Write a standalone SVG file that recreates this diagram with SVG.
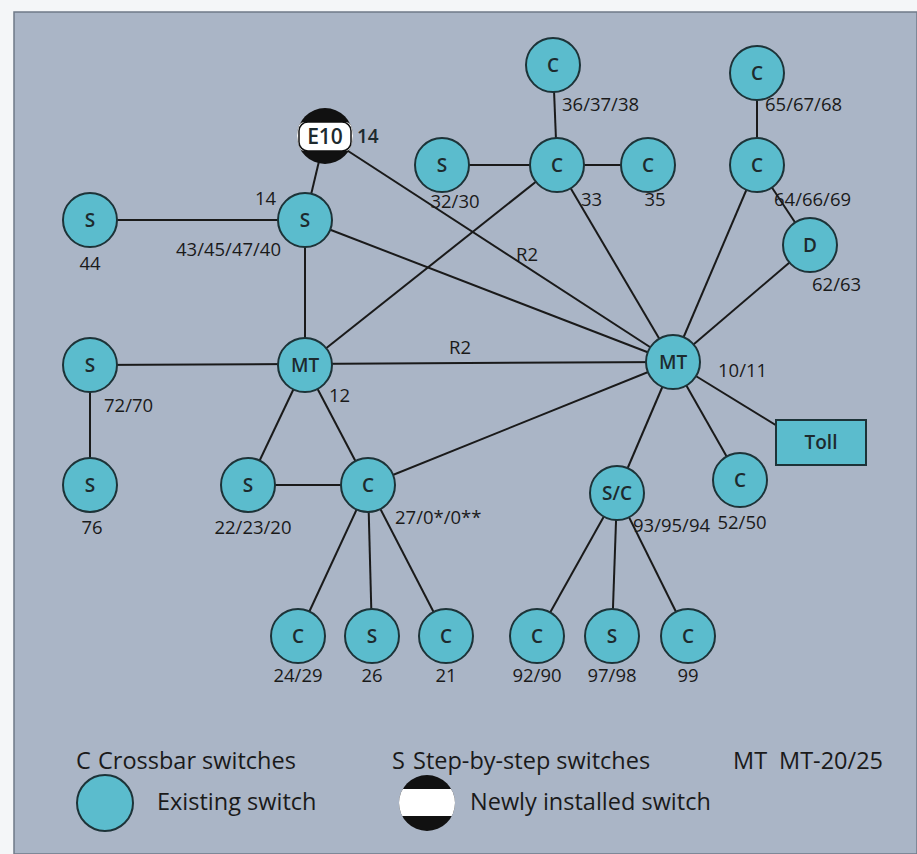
<svg xmlns="http://www.w3.org/2000/svg" width="917" height="854" viewBox="0 0 917 854">
<style>
.n{fill:#5bbccd;stroke:#1d3338;stroke-width:2}
.t{font-family:"Open Sans","Liberation Sans",sans-serif;font-size:18.5px;fill:#1a1a1a}
.k{font-weight:600;fill:#1d2a2e;font-size:19px}
.l{font-size:23.5px}
.c{text-anchor:middle}
.e line{stroke:#1a1a1a;stroke-width:2}
</style>
<defs>
<clipPath id="cp"><circle cx="325" cy="136" r="28"/></clipPath>
<clipPath id="cp2"><circle cx="427" cy="803" r="28"/></clipPath>
</defs>
<rect x="0" y="0" width="917" height="854" fill="#f4f6f8"/>
<rect x="14" y="12" width="903" height="842" fill="#aab5c6" stroke="#6f7a88" stroke-width="1.5"/>
<g id="edges" class="e">
<line x1="553" y1="65" x2="557" y2="165"/>
<line x1="442" y1="165" x2="557" y2="165"/>
<line x1="557" y1="165" x2="648" y2="165"/>
<line x1="757" y1="73" x2="757" y2="165"/>
<line x1="757" y1="165" x2="810" y2="245"/>
<line x1="757" y1="165" x2="673" y2="362"/>
<line x1="810" y1="245" x2="673" y2="362"/>
<line x1="325" y1="136" x2="305" y2="220"/>
<line x1="325" y1="136" x2="673" y2="362"/>
<line x1="90" y1="220" x2="305" y2="220"/>
<line x1="305" y1="220" x2="305" y2="365"/>
<line x1="305" y1="220" x2="673" y2="362"/>
<line x1="557" y1="165" x2="305" y2="365"/>
<line x1="557" y1="165" x2="673" y2="362"/>
<line x1="90" y1="365" x2="673" y2="362"/>
<line x1="90" y1="365" x2="90" y2="485"/>
<line x1="305" y1="365" x2="248" y2="485"/>
<line x1="305" y1="365" x2="368" y2="485"/>
<line x1="248" y1="485" x2="368" y2="485"/>
<line x1="368" y1="485" x2="673" y2="362"/>
<line x1="368" y1="485" x2="298" y2="636"/>
<line x1="368" y1="485" x2="372" y2="636"/>
<line x1="368" y1="485" x2="446" y2="636"/>
<line x1="673" y1="362" x2="617" y2="493"/>
<line x1="673" y1="362" x2="740" y2="480"/>
<line x1="673" y1="362" x2="800" y2="440"/>
<line x1="617" y1="493" x2="537" y2="636"/>
<line x1="617" y1="493" x2="612" y2="636"/>
<line x1="617" y1="493" x2="688" y2="636"/>
</g>
<g id="n_c36"><circle class="n" cx="553" cy="65" r="27"/><text class="t k c" x="553" y="72">C</text><text class="t" x="562" y="111">36/37/38</text></g>
<g id="n_c65"><circle class="n" cx="757" cy="73" r="27"/><text class="t k c" x="757" y="80">C</text><text class="t" x="765" y="111">65/67/68</text></g>
<g id="n_e10"><circle cx="325" cy="136" r="28" fill="#111"/><rect x="296" y="122" width="58" height="29" rx="9" fill="#fff" clip-path="url(#cp)"/><rect x="299" y="122" width="52" height="29" rx="9" fill="none" stroke="#111" stroke-width="1.5"/><text class="t k c" x="325" y="144" style="font-size:21px">E10</text><text class="t k" x="357" y="143">14</text></g>
<g id="n_s32"><circle class="n" cx="442" cy="165" r="27"/><text class="t k c" x="442" y="172">S</text><text class="t c" x="455" y="208">32/30</text></g>
<g id="n_c33"><circle class="n" cx="557" cy="165" r="27"/><text class="t k c" x="557" y="172">C</text><text class="t" x="581" y="206">33</text></g>
<g id="n_c35"><circle class="n" cx="648" cy="165" r="27"/><text class="t k c" x="648" y="172">C</text><text class="t c" x="655" y="206">35</text></g>
<g id="n_c64"><circle class="n" cx="757" cy="165" r="27"/><text class="t k c" x="757" y="172">C</text><text class="t" x="774" y="206">64/66/69</text></g>
<g id="n_d"><circle class="n" cx="810" cy="245" r="27"/><text class="t k c" x="810" y="252">D</text><text class="t" x="812" y="291">62/63</text></g>
<g id="n_s44"><circle class="n" cx="90" cy="220" r="27"/><text class="t k c" x="90" y="227">S</text><text class="t c" x="90" y="270">44</text></g>
<g id="n_s14"><circle class="n" cx="305" cy="220" r="27"/><text class="t k c" x="305" y="227">S</text><text class="t" x="255" y="205">14</text><text class="t" x="176" y="256">43/45/47/40</text></g>
<g id="n_s72"><circle class="n" cx="90" cy="365" r="27"/><text class="t k c" x="90" y="372">S</text><text class="t" x="104" y="412">72/70</text></g>
<g id="n_mt12"><circle class="n" cx="305" cy="365" r="27"/><text class="t k c" x="305" y="372">MT</text><text class="t" x="329" y="402">12</text></g>
<g id="n_mt10"><circle class="n" cx="673" cy="362" r="27"/><text class="t k c" x="673" y="369">MT</text><text class="t" x="718" y="377">10/11</text></g>
<g id="n_s76"><circle class="n" cx="90" cy="485" r="27"/><text class="t k c" x="90" y="492">S</text><text class="t c" x="92" y="534">76</text></g>
<g id="n_s22"><circle class="n" cx="248" cy="485" r="27"/><text class="t k c" x="248" y="492">S</text><text class="t c" x="253" y="534">22/23/20</text></g>
<g id="n_c27"><circle class="n" cx="368" cy="485" r="27"/><text class="t k c" x="368" y="492">C</text><text class="t" x="395" y="524">27/0*/0**</text></g>
<g id="n_sc"><circle class="n" cx="617" cy="493" r="27"/><text class="t k c" x="617" y="500">S/C</text><text class="t" x="633" y="532">93/95/94</text></g>
<g id="n_c52"><circle class="n" cx="740" cy="480" r="27"/><text class="t k c" x="740" y="487">C</text><text class="t c" x="742" y="529">52/50</text></g>
<g id="n_toll"><rect class="n" x="776" y="420" width="90" height="45"/><text class="t k c" x="821" y="449">Toll</text></g>
<g id="n_c24"><circle class="n" cx="298" cy="636" r="27"/><text class="t k c" x="298" y="643">C</text><text class="t c" x="298" y="682">24/29</text></g>
<g id="n_s26"><circle class="n" cx="372" cy="636" r="27"/><text class="t k c" x="372" y="643">S</text><text class="t c" x="372" y="682">26</text></g>
<g id="n_c21"><circle class="n" cx="446" cy="636" r="27"/><text class="t k c" x="446" y="643">C</text><text class="t c" x="446" y="682">21</text></g>
<g id="n_c92"><circle class="n" cx="537" cy="636" r="27"/><text class="t k c" x="537" y="643">C</text><text class="t c" x="537" y="682">92/90</text></g>
<g id="n_s97"><circle class="n" cx="612" cy="636" r="27"/><text class="t k c" x="612" y="643">S</text><text class="t c" x="612" y="682">97/98</text></g>
<g id="n_c99"><circle class="n" cx="688" cy="636" r="27"/><text class="t k c" x="688" y="643">C</text><text class="t c" x="688" y="682">99</text></g>
<text class="t" x="516" y="261">R2</text>
<text class="t" x="449" y="354">R2</text>
<g id="legend">
<text class="t l" x="76" y="769">C</text><text class="t l" x="98" y="769">Crossbar switches</text>
<text class="t l" x="392" y="769">S</text><text class="t l" x="413" y="769">Step-by-step switches</text>
<text class="t l" x="733" y="769">MT</text><text class="t l" x="779" y="769">MT-20/25</text>
<circle class="n" cx="105" cy="803" r="28"/>
<text class="t l" x="157" y="810">Existing switch</text>
<circle cx="427" cy="803" r="28" fill="#111"/>
<rect x="398" y="789" width="58" height="27" fill="#fff" clip-path="url(#cp2)"/>
<text class="t l" x="470" y="810">Newly installed switch</text>
</g>
</svg>
